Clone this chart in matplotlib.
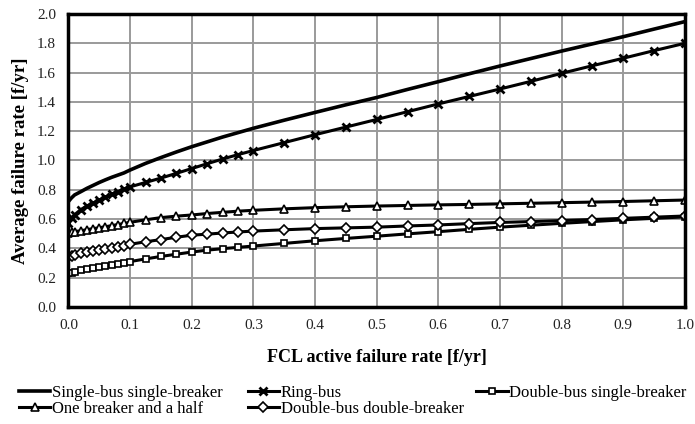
import matplotlib
matplotlib.use("Agg")
import matplotlib.pyplot as plt

plt.rcParams['font.family'] = ['Liberation Serif', 'DejaVu Serif']

x = [0, 0.005, 0.01, 0.02, 0.03, 0.04, 0.05, 0.06, 0.07, 0.08, 0.09, 0.1,
     0.125, 0.15, 0.175, 0.2, 0.225, 0.25, 0.275, 0.3, 0.35, 0.4, 0.45, 0.5,
     0.55, 0.6, 0.65, 0.7, 0.75, 0.8, 0.85, 0.9, 0.95, 1.0]

single_bus = [0.72, 0.745, 0.765, 0.787, 0.81, 0.83, 0.85, 0.868, 0.885, 0.90, 0.915, 0.935,
              0.98, 1.02, 1.058, 1.094, 1.127, 1.16, 1.19, 1.22, 1.275, 1.328, 1.38, 1.43,
              1.485, 1.538, 1.592, 1.645, 1.696, 1.747, 1.796, 1.845, 1.897, 1.948]
ring_bus = [0.57, 0.61, 0.63, 0.665, 0.69, 0.71, 0.73, 0.75, 0.77, 0.788, 0.805, 0.82,
            0.85, 0.88, 0.912, 0.945, 0.978, 1.01, 1.04, 1.068, 1.122, 1.176, 1.228, 1.28,
            1.333, 1.386, 1.437, 1.488, 1.54, 1.595, 1.647, 1.698, 1.75, 1.80]
double_single = [0.23, 0.235, 0.24, 0.252, 0.258, 0.265, 0.271, 0.278, 0.285, 0.292, 0.299, 0.31,
                 0.328, 0.345, 0.36, 0.375, 0.388, 0.398, 0.407, 0.416, 0.434, 0.452, 0.468, 0.483,
                 0.499, 0.514, 0.53, 0.545, 0.558, 0.571, 0.583, 0.595, 0.605, 0.615]
one_half = [0.505, 0.51, 0.515, 0.52, 0.528, 0.535, 0.541, 0.548, 0.555, 0.563, 0.57, 0.578,
            0.595, 0.61, 0.62, 0.628, 0.638, 0.646, 0.654, 0.66, 0.67, 0.678, 0.684, 0.689,
            0.693, 0.697, 0.70, 0.704, 0.708, 0.712, 0.716, 0.72, 0.725, 0.73]
double_double = [0.343, 0.35, 0.356, 0.366, 0.374, 0.382, 0.389, 0.396, 0.403, 0.41, 0.418, 0.428,
                 0.445, 0.46, 0.476, 0.49, 0.497, 0.505, 0.512, 0.518, 0.527, 0.535, 0.54, 0.545,
                 0.553, 0.56, 0.569, 0.577, 0.583, 0.59, 0.597, 0.605, 0.613, 0.621]

labels = ["Single-bus single-breaker", "Ring-bus", "Double-bus single-breaker",
          "One breaker and a half", "Double-bus double-breaker"]
xticks = [0.0, 0.1, 0.2, 0.3, 0.4, 0.5, 0.6, 0.7, 0.8, 0.9, 1.0]
yticks = [0.0, 0.2, 0.4, 0.6, 0.8, 1.0, 1.2, 1.4, 1.6, 1.8, 2.0]

fig = plt.figure(figsize=(6.95, 4.24), dpi=100)
ax = fig.add_axes([0.0985, 0.276, 0.887, 0.691])

h1, = ax.plot(x, single_bus, color='black', lw=2.6)
h2, = ax.plot(x, ring_bus, color='black', lw=2.2, marker='x', ms=6, mew=2)
h3, = ax.plot(x, double_single, color='black', lw=2.2, marker='s', ms=5,
              mfc='white', mec='black', mew=1.2)
h4, = ax.plot(x, one_half, color='black', lw=2.2, marker='^', ms=6,
              mfc='white', mec='black', mew=1.2)
h5, = ax.plot(x, double_double, color='black', lw=2.2, marker='D', ms=5,
              mfc='white', mec='black', mew=1.2)

ax.set_xlim(0, 1.0)
ax.set_ylim(0, 2.0)
ax.set_xticks(xticks)
ax.set_yticks(yticks)
ax.set_xticklabels([f"{v:.1f}" for v in xticks])
ax.set_yticklabels([f"{v:.1f}" for v in yticks])
ax.tick_params(length=0, labelsize=11, pad=9, labelcolor='#222222')
ax.grid(True, color='#9a9a9a', lw=1.4)
ax.set_axisbelow(True)
for s in ax.spines.values():
    s.set_linewidth(2.5)
    s.set_color('black')

ax.set_xlabel("FCL active failure rate [f/yr]", fontsize=13, fontweight='bold', labelpad=12)
ax.set_ylabel("Average failure rate [f/yr]", fontsize=13.5, fontweight='bold', labelpad=6)

common = dict(frameon=False, fontsize=12, handlelength=1.9, handletextpad=0.08,
              borderaxespad=0, borderpad=0, labelspacing=0.0)
leg1 = fig.legend([h1, h4, h2, h5], [labels[0], labels[3], labels[1], labels[4]],
                  ncol=2, loc='upper left', bbox_to_anchor=(0.027, 0.092),
                  columnspacing=1.5, **common)
leg2 = fig.legend([h3], [labels[2]], loc='upper left', bbox_to_anchor=(0.685, 0.092),
                  **common)

fig.savefig("out.png", dpi=100)
